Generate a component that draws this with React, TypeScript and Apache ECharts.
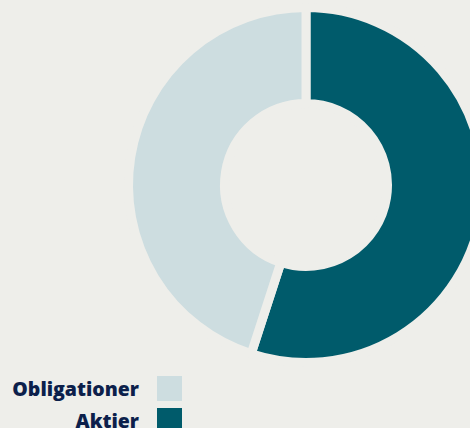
import React, { useEffect, useRef } from "react";
import * as echarts from "echarts";

const categories = ["Aktier", "Obligationer"];
const values = [55, 45];
const colors = ["#005b6b", "#cddde0"];
const legendOrder = ["Obligationer", "Aktier"];

const BG = "#eeeeea";

export default function App() {
  const ref = useRef<HTMLDivElement>(null);
  useEffect(() => {
    if (!ref.current) return;
    const chart = echarts.init(ref.current, null, { renderer: "svg" });
    const legendBase = {
      orient: "vertical" as const,
      align: "right" as const,
      right: 286,
      padding: 0,
      itemWidth: 27,
      itemHeight: 27,
      itemGap: 17,
      selectedMode: false,
      icon: "rect",
      textStyle: {
        color: "#0c1f4b",
        fontFamily: "Open Sans",
        fontWeight: 800,
        fontSize: 19.5,
        padding: [0, 12, 0, 0],
      },
    };
    chart.setOption({
      animation: false,
      backgroundColor: BG,
      color: colors,
      legend: [
        { ...legendBase, top: 374, data: [legendOrder[0]] },
        { ...legendBase, top: 406, data: [legendOrder[1]] },
      ],
      series: [
        {
          type: "pie",
          center: [306, 185],
          radius: [81.5, 177.5],
          startAngle: 90,
          clockwise: true,
          silent: true,
          label: { show: false },
          labelLine: { show: false },
          itemStyle: { borderColor: BG, borderWidth: 9 },
          data: categories.map((c, i) => ({ name: c, value: values[i] })),
        },
      ],
    });
    return () => chart.dispose();
  }, []);
  return (
    <div
      ref={ref}
      style={{ position: "fixed", left: 0, top: 0, width: 470, height: 428, background: BG }}
    />
  );
}
